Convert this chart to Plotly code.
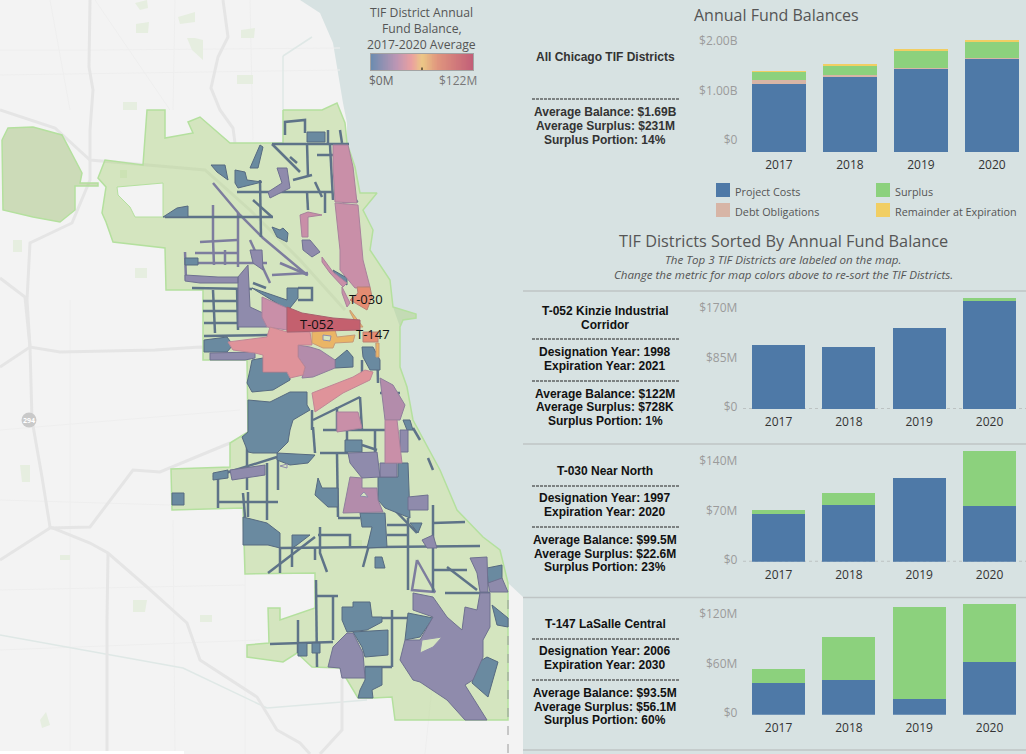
import plotly.graph_objects as go

# ---------- bar data ----------
years = ["2017", "2018", "2019", "2020"]

# all districts, $B
all_project = [1.21, 1.33, 1.47, 1.66]
all_debt = [0.07, 0.03, 0.012, 0.008]
all_surplus = [0.14, 0.17, 0.31, 0.295]
all_remainder = [0.012, 0.012, 0.018, 0.018]

# single districts, $M
kinzie_project = [98, 95, 124, 167]
kinzie_surplus = [0, 0, 0, 3]
near_north_project = [60, 72, 106, 70]
near_north_surplus = [6, 15, 0, 70]
lasalle_project = [35, 38, 17, 58]
lasalle_surplus = [15, 47, 101, 63]

legend_labels = ["Project Costs", "Debt Obligations", "Surplus", "Remainder at Expiration"]
scale_values = list(range(0, 123))

# ---------- map outlines ----------
land = [(0, 0), (300, 0), (320, 13), (333, 43), (343, 103), (347, 123), (347, 143), (355, 167), (360, 193),
        (377, 193), (363, 210), (373, 230), (370, 250), (390, 280), (393, 307), (400, 327), (400, 367),
        (407, 387), (413, 420), (440, 470), (457, 510), (483, 537), (500, 550), (508, 583), (523, 597),
        (523, 754), (0, 754)]

city = [(283, 110), (322, 110), (337, 103), (345, 123), (347, 143), (355, 167), (360, 193), (377, 193),
        (363, 210), (373, 230), (370, 250), (390, 280), (393, 307), (402, 310), (416, 314), (416, 318), (403, 320),
        (400, 327), (400, 367),
        (407, 387), (413, 420), (440, 470), (457, 510), (483, 537), (500, 550), (508, 583), (508, 720),
        (395, 720), (392, 697), (373, 698), (358, 698), (340, 668), (312, 667), (297, 653), (283, 662),
        (247, 657), (247, 645), (269, 643), (268, 608), (280, 608), (280, 620), (315, 608), (315, 573),
        (245, 574), (243, 508), (172, 510), (171, 469), (230, 467), (230, 443), (248, 432), (247, 387),
        (247, 360), (203, 360), (203, 290), (166, 290), (165, 248), (113, 242), (106, 222), (102, 213),
        (106, 187), (98, 178), (105, 160), (143, 165), (147, 110), (165, 110), (165, 138), (193, 133),
        (188, 122), (200, 117), (230, 143), (283, 143)]
city_hole = [(117, 187), (163, 183), (163, 217), (135, 217), (130, 207), (118, 195)]

ohare = [(2, 140), (8, 128), (33, 127), (62, 135), (82, 173), (80, 183), (98, 183), (98, 186), (75, 186),
         (75, 210), (60, 222), (33, 217), (3, 210)]

parks = [[(187, 38), (195, 38), (203, 40), (203, 60), (192, 50)], [(178, 17), (195, 12), (195, 22), (180, 24)],
         [(136, 24), (149, 22), (148, 33), (136, 33)], [(241, 30), (255, 28), (254, 38), (241, 38)],
         [(237, 75), (253, 75), (253, 84), (237, 84)], [(123, 102), (137, 102), (137, 110), (123, 110)],
         [(135, 3), (147, 0), (148, 8), (140, 10)], [(20, 465), (30, 465), (30, 482), (22, 482)],
         [(60, 555), (70, 555), (70, 560), (60, 560)], [(133, 600), (147, 600), (145, 612), (133, 612)],
         [(200, 615), (212, 615), (212, 622), (200, 622)], [(40, 720), (46, 712), (50, 725), (42, 728)],
         [(13, 240), (22, 240), (22, 252), (13, 252)], [(135, 268), (147, 268), (147, 278), (135, 278)],
         [(120, 170), (127, 170), (127, 178), (120, 178)], [(350, 540), (362, 540), (362, 548), (350, 548)]]

roads = [[(90, 0), (89, 67), (93, 90), (90, 130), (90, 180), (72, 223), (30, 243), (27, 300), (30, 347), (32, 420),
          (42, 477), (50, 527), (90, 543), (108, 553), (147, 587), (187, 623), (200, 660), (257, 697), (277, 730),
          (300, 743), (310, 754)],
         [(223, 0), (228, 37), (218, 57), (211, 88), (220, 110), (233, 128), (235, 143)],
         [(0, 110), (55, 128), (90, 160), (165, 167), (205, 170), (250, 210), (300, 260), (345, 310)],
         [(0, 278), (25, 297), (30, 347)], [(0, 367), (30, 347), (60, 352), (155, 350), (200, 347), (270, 350)],
         [(0, 560), (50, 528), (90, 527), (133, 470), (160, 472), (230, 443)],
         [(108, 553), (107, 620), (107, 754)], [(342, 670), (342, 730), (320, 754)]]
thin_roads = [[(0, 50), (100, 50), (340, 48)], [(0, 75), (340, 70)], [(50, 0), (70, 110)], [(175, 0), (173, 110)],
              [(95, 0), (170, 110)], [(250, 0), (253, 140)], [(0, 430), (240, 410)], [(173, 520), (175, 754)],
              [(0, 590), (245, 585)], [(245, 520), (245, 754)], [(440, 610), (425, 754)], [(0, 650), (260, 640)],
              [(70, 300), (70, 754)], [(0, 500), (170, 505)]]
canal = [[(0, 635), (183, 668), (267, 708), (367, 700)], [(283, 56), (283, 110)], [(283, 56), (312, 37)]]

# districts grouped by colour on the average balance scale
slate_areas = [[(307, 132), (325, 132), (325, 142), (307, 142)], [(260, 145), (250, 168), (258, 168), (263, 147)],
               [(211, 165), (225, 165), (228, 180), (217, 172)],
               [(235, 170), (245, 172), (247, 180), (262, 182), (238, 188), (235, 183)],
               [(163, 217), (177, 208), (188, 206), (188, 217)],
               [(333, 270), (347, 278), (347, 285), (338, 280)],
               [(272, 227), (280, 230), (283, 228), (288, 233), (287, 242), (277, 237)],
               [(252, 288), (287, 300), (287, 288), (298, 288), (298, 298), (290, 308), (283, 307), (267, 297)],
               [(204, 340), (227, 337), (233, 345), (227, 352), (204, 352)],
               [(252, 360), (263, 358), (263, 372), (290, 372), (290, 380), (273, 390), (252, 392), (247, 383),
                (250, 370)],
               [(335, 360), (347, 350), (353, 357), (353, 367), (335, 368)],
               [(362, 347), (373, 347), (380, 360), (380, 370), (370, 370), (363, 357)],
               [(248, 400), (270, 402), (290, 392), (307, 392), (307, 405), (310, 410), (293, 420), (290, 430),
                (288, 442), (277, 453), (253, 453), (248, 452), (242, 437), (248, 432)],
               [(277, 453), (315, 455), (308, 463), (290, 465), (277, 460)],
               [(378, 477), (398, 477), (398, 463), (408, 463), (409, 490), (410, 518), (385, 508), (378, 500)],
               [(318, 478), (322, 488), (338, 488), (338, 507), (328, 507), (315, 495)],
               [(172, 493), (184, 493), (184, 505), (172, 505)],
               [(243, 517), (267, 523), (280, 533), (280, 548), (268, 545), (243, 545)],
               [(292, 535), (310, 535), (297, 545), (292, 548)],
               [(360, 513), (385, 513), (387, 547), (367, 548), (372, 527), (362, 527)],
               [(375, 557), (382, 557), (385, 568), (375, 568)],
               [(408, 613), (433, 618), (420, 637), (405, 640)],
               [(477, 663), (487, 657), (498, 662), (488, 697), (472, 683)],
               [(342, 607), (353, 607), (353, 602), (370, 602), (372, 617), (382, 617), (382, 622), (367, 630),
                (347, 632), (342, 620)],
               [(353, 632), (388, 630), (388, 655), (365, 657), (362, 647)],
               [(365, 667), (382, 667), (382, 685), (372, 690), (373, 698), (358, 698), (360, 690), (365, 680)],
               [(298, 643), (307, 643), (307, 656), (298, 656)], [(312, 643), (320, 643), (320, 653), (312, 653)],
               [(487, 568), (502, 565), (502, 580), (488, 583)], [(492, 605), (508, 618), (508, 627), (497, 625)],
               [(410, 523), (422, 523), (418, 533)], [(345, 440), (362, 440), (362, 452), (345, 452)],
               [(185, 258), (198, 258), (198, 265), (185, 265)], [(403, 420), (410, 420), (413, 430), (407, 430)],
               [(213, 473), (228, 470), (228, 478), (213, 480)]]

purple_areas = [[(277, 168), (287, 168), (290, 188), (270, 198), (268, 192), (282, 183)],
                [(185, 275), (218, 277), (238, 277), (238, 283), (200, 283), (185, 281)],
                [(238, 277), (248, 265), (250, 307), (263, 313), (267, 327), (238, 327)],
                [(250, 250), (262, 250), (263, 270), (253, 263)],
                [(343, 193), (353, 193), (358, 202), (343, 203)],
                [(302, 240), (310, 240), (320, 252), (312, 257), (303, 250)],
                [(210, 353), (255, 352), (255, 358), (245, 360), (210, 360)],
                [(348, 453), (377, 452), (380, 477), (362, 478), (350, 463)],
                [(380, 463), (397, 463), (397, 477), (380, 477)],
                [(400, 430), (408, 430), (408, 452), (400, 452)],
                [(413, 593), (433, 597), (447, 617), (462, 630), (465, 607), (477, 610), (480, 593), (490, 593),
                 (490, 627), (483, 640), (483, 657), (473, 680), (465, 685), (487, 720), (465, 720), (447, 700),
                 (420, 682), (413, 680), (400, 660), (405, 640), (420, 640), (433, 617), (413, 610)],
                [(347, 633), (353, 633), (363, 653), (365, 678), (342, 678), (340, 668), (328, 667), (333, 647)],
                [(488, 583), (502, 578), (508, 592), (490, 592)],
                [(470, 558), (487, 557), (488, 592), (480, 592), (477, 573)],
                [(408, 497), (428, 495), (428, 510), (408, 510)],
                [(422, 540), (433, 535), (437, 548), (427, 548)],
                [(230, 470), (265, 465), (265, 475), (232, 480)]]

mauve_areas = [[(298, 345), (310, 347), (320, 350), (335, 360), (335, 368), (313, 377), (302, 378), (305, 367),
                (298, 357)],
               [(350, 477), (362, 478), (362, 488), (377, 488), (378, 500), (383, 512), (343, 513), (348, 488)],
               [(380, 378), (393, 385), (405, 405), (400, 420), (385, 420)]]

pink_areas = [[(333, 145), (348, 145), (353, 167), (357, 203), (335, 202), (333, 167)],
              [(335, 203), (358, 205), (363, 260), (370, 287), (355, 288), (340, 270), (340, 250)],
              [(262, 297), (287, 308), (287, 330), (267, 327), (262, 317)],
              [(300, 215), (308, 212), (322, 215), (308, 217), (308, 237), (302, 237)],
              [(322, 257), (333, 272), (347, 283), (343, 287), (330, 273), (322, 262)],
              [(342, 287), (350, 303), (347, 307), (342, 293)],
              [(337, 412), (358, 412), (362, 428), (337, 432)],
              [(385, 420), (397, 420), (402, 463), (385, 463)]]

salmon_areas = [[(228, 342), (267, 337), (270, 327), (287, 332), (310, 332), (312, 345), (298, 345), (298, 357),
                 (305, 367), (303, 375), (290, 378), (287, 372), (263, 372), (263, 355), (255, 353), (233, 350)],
                [(312, 393), (353, 377), (365, 370), (373, 372), (370, 380), (343, 393), (315, 412)]]

orange_areas = [[(357, 287), (370, 287), (372, 297), (367, 310), (362, 307), (350, 300), (358, 293)],
                [(363, 332), (378, 332), (378, 342), (363, 342)]]

yellow_areas = [[(312, 332), (335, 330), (337, 337), (355, 335), (353, 342), (335, 343), (333, 348), (323, 348),
                 (312, 343)],
                [(350, 310), (363, 327), (358, 327), (350, 312)], [(376, 343), (379, 343), (379, 357), (376, 357)]]

red_areas = [[(287, 307), (302, 313), (333, 318), (360, 320), (360, 330), (333, 331), (287, 332)]]

gaps = [[(323, 335), (331, 336), (330, 341), (323, 340)], [(422, 640), (442, 637), (433, 647), (420, 653)],
        [(280, 466), (287, 464), (287, 468)], [(360, 496), (368, 497), (364, 492)]]

slate_lines = [[(285, 135), (285, 122), (305, 120), (305, 133)], [(272, 144), (349, 144)],
               [(272, 144), (300, 172)], [(307, 143), (308, 177)], [(328, 130), (328, 143)], [(340, 130), (342, 143)],
               [(317, 155), (333, 155)], [(237, 192), (333, 192)], [(260, 180), (261, 237)],
               [(165, 217), (273, 217)], [(192, 288), (252, 289)], [(203, 301), (238, 301)], [(203, 311), (238, 311)],
               [(204, 323), (238, 323)], [(213, 290), (215, 333)], [(237, 288), (238, 330)],
               [(298, 288), (312, 288), (312, 300), (298, 300)],
               [(204, 336), (268, 335)], [(253, 200), (272, 217)], [(280, 548), (480, 546)], [(280, 548), (280, 573)],
               [(268, 573), (315, 537)], [(292, 548), (292, 567)], [(315, 548), (315, 560)],
               [(320, 527), (320, 553), (327, 572)], [(375, 523), (363, 567)], [(337, 453), (338, 517)],
               [(338, 518), (360, 518)], [(318, 535), (350, 535), (350, 548)], [(320, 453), (348, 453)],
               [(313, 427), (315, 453)], [(267, 463), (267, 520)], [(213, 477), (277, 457)], [(218, 477), (218, 508)],
               [(218, 502), (278, 502)], [(243, 493), (245, 517)], [(248, 492), (248, 517)], [(247, 447), (247, 490)],
               [(278, 457), (278, 490)], [(408, 518), (408, 590)], [(387, 525), (408, 525)], [(387, 535), (408, 535)],
               [(387, 502), (417, 533)], [(433, 505), (433, 592)], [(433, 523), (465, 522)], [(433, 570), (467, 570)],
               [(447, 567), (477, 590)], [(445, 593), (490, 593)], [(316, 580), (317, 667)], [(333, 597), (333, 640)],
               [(316, 596), (338, 596)], [(270, 644), (333, 642)], [(298, 620), (298, 653)], [(382, 618), (407, 618)],
               [(392, 610), (392, 667)], [(365, 667), (392, 667)], [(313, 420), (360, 397)], [(360, 397), (362, 430)],
               [(323, 430), (397, 430)], [(330, 145), (333, 200)], [(348, 160), (350, 190)], [(315, 182), (322, 197)],
               [(307, 192), (308, 210)], [(325, 193), (325, 213)], [(293, 180), (312, 175)], [(290, 157), (297, 163)],
               [(377, 343), (378, 383)], [(380, 393), (400, 393)], [(388, 392), (388, 430)], [(337, 407), (337, 430)],
               [(312, 410), (312, 430)], [(375, 430), (375, 452)], [(347, 430), (347, 452)], [(413, 428), (420, 440)],
               [(428, 458), (433, 470)], [(362, 360), (362, 375)], [(362, 445), (377, 450)], [(253, 283), (266, 288)]]

purple_lines = [[(213, 183), (240, 215), (263, 238), (307, 275)], [(213, 205), (213, 240)], [(238, 213), (238, 267)],
                [(200, 242), (237, 240)], [(195, 253), (237, 253)], [(185, 263), (267, 263)], [(213, 240), (214, 265)],
                [(225, 250), (225, 265)], [(185, 252), (186, 280)], [(250, 240), (270, 283)], [(272, 275), (308, 273)],
                [(280, 263), (308, 275)], [(417, 560), (412, 590), (435, 592), (417, 560)]]

# ---------- layout numbers ----------
W, H = 1026, 754
WATER = "#d7e2e2"
LAND = "#f3f3f3"
BLUE = "#4e79a7"
GREEN = "#8cd17d"
DEBT = "#d7b5a6"
GOLD = "#f1ce63"
TICK_GREY = "#9b9b9b"


def flat(paths, close=False):
    xs, ys = [], []
    for path in paths:
        pts = path + path[:1] if close else path
        xs += [p[0] for p in pts] + [None]
        ys += [p[1] for p in pts] + [None]
    return xs, ys


fig = go.Figure()


def add_fill(paths, fill, edge, width=1):
    xs, ys = flat(paths, close=True)
    fig.add_trace(go.Scatter(x=xs, y=ys, mode="lines", fill="toself", fillcolor=fill,
                             line=dict(color=edge, width=width), hoverinfo="skip", xaxis="x", yaxis="y"))


def add_lines(paths, color, width, dash=None):
    xs, ys = flat(paths)
    fig.add_trace(go.Scatter(x=xs, y=ys, mode="lines", line=dict(color=color, width=width, dash=dash),
                             hoverinfo="skip", xaxis="x", yaxis="y"))


# map, the axis runs in picture pixels so the outlines stay readable
add_fill([land], LAND, LAND, 0)
add_lines(thin_roads, "#eeeeee", 1)
add_lines(canal, "#dfe8e6", 1.5)
add_fill(parks, "#e6eee0", "#e6eee0", 0)
add_lines(roads, "#e5e5e5", 3)
add_fill([city], "rgba(170,210,120,0.42)", "#b4e09e", 1.5)
add_fill([ohare], "rgba(165,195,125,0.5)", "#b4e09e", 1.5)
add_fill([city_hole], LAND, "#b4e09e", 1)
add_lines([[(508, 600), (508, 754)]], "#9a9a9a", 1, "dash")

add_lines(purple_lines, "#7d7d9e", 2.5)
add_lines(slate_lines, "#5e7388", 2.5)
add_fill(slate_areas, "#6a8aa0", "#566a80")
add_fill(purple_areas, "#8f8bac", "#6f7190")
add_fill(mauve_areas, "#b38cab", "#8f7f9c")
add_fill(pink_areas, "#c98fa8", "#a9829c")
add_fill(salmon_areas, "#df939a", "#c08796")
add_fill(orange_areas, "#e58c72", "#b98277")
add_fill(yellow_areas, "#eab566", "#c79b78")
add_fill(red_areas, "#c4606e", "#a8606e")
add_fill(gaps, "#d5e5c0", "#8f8bac")

# white strip behind the map credit
add_fill([[(0, 751), (184, 751), (184, 754), (0, 754)]], "#ffffff", "#ffffff", 0)

# panel rules
add_fill([[(523, 597), (1026, 597), (1026, 754), (523, 754)]], WATER, WATER, 0)
add_lines([[(523, 291), (1026, 291)], [(523, 444), (1026, 444)], [(523, 597.5), (1026, 597.5)],
           [(523, 750), (1026, 750)]], "#bfc5c5", 1.5)
add_lines([[(532, 99), (679, 99)], [(532, 339), (679, 339)], [(532, 381), (679, 381)], [(532, 486), (679, 486)],
           [(532, 527), (679, 527)], [(532, 639), (679, 639)], [(532, 680), (679, 680)]],
          "#222222", 1, "3px,1px")


def add_bars(series, xname, yname):
    for name, vals, color in series:
        fig.add_trace(go.Bar(x=years, y=vals, name=name, marker=dict(color=color, line=dict(width=0)), width=0.755,
                             hoverinfo="skip", xaxis=xname, yaxis=yname))


add_bars([("Project Costs", all_project, BLUE), ("Debt Obligations", all_debt, DEBT),
          ("Surplus", all_surplus, GREEN), ("Remainder at Expiration", all_remainder, GOLD)], "x2", "y2")
add_bars([("Project Costs", kinzie_project, BLUE), ("Surplus", kinzie_surplus, GREEN)], "x3", "y3")
add_bars([("Project Costs", near_north_project, BLUE), ("Surplus", near_north_surplus, GREEN)], "x4", "y4")
add_bars([("Project Costs", lasalle_project, BLUE), ("Surplus", lasalle_surplus, GREEN)], "x5", "y5")

# colour scale of the map
fig.add_trace(go.Heatmap(z=[scale_values], showscale=False, hoverinfo="skip", xaxis="x6", yaxis="y6",
                         colorscale=[[0, "#6c8cb0"], [0.25, "#bd96b4"], [0.4, "#eaa0a0"], [0.5, "#ecc886"],
                                     [0.65, "#e0967e"], [1, "#c25f78"]]))

# legend keys and the interstate shield
legend_x = [723, 723, 883, 883]
legend_y = [190, 210, 190, 210]
fig.add_trace(go.Scatter(x=legend_x, y=legend_y, mode="markers", hoverinfo="skip",
                         marker=dict(symbol="square", size=14, color=[BLUE, DEBT, GREEN, GOLD]), xaxis="x", yaxis="y"))
fig.add_trace(go.Scatter(x=[29], y=[420], mode="markers", hoverinfo="skip",
                         marker=dict(symbol="circle", size=15, color="#c9c9c9"), xaxis="x", yaxis="y"))


def value_axis(top_px, base_px, top_value, tick_pos, tick_text):
    return dict(domain=[1 - base_px / H, 1 - top_px / H], range=[0, top_value], showgrid=False, zeroline=False,
                tickmode="array", tickvals=tick_pos, ticktext=tick_text, ticks="", showline=False, fixedrange=True,
                automargin=False, ticklabelstandoff=5, tickfont=dict(family="Open Sans", size=12, color=TICK_GREY))


def year_axis(hi, anchor, left=743.4):
    return dict(domain=[left / W, 1], range=[-0.5, hi], type="category", anchor=anchor, showgrid=False, zeroline=False,
                ticks="", showline=False, fixedrange=True, automargin=False, ticklabelstandoff=4,
                tickfont=dict(family="Open Sans", size=12, color="#333333"))


fig.update_layout(
    width=W, height=H, margin=dict(l=0, r=0, t=0, b=0), paper_bgcolor=WATER, plot_bgcolor="rgba(0,0,0,0)",
    showlegend=False, barmode="stack", bargap=0.245,
    xaxis=dict(domain=[0, 1], range=[0, W], visible=False, fixedrange=True, automargin=False),
    yaxis=dict(domain=[0, 1], range=[H, 0], visible=False, fixedrange=True, automargin=False),
    xaxis2=year_axis(3.479, "y2"),
    yaxis2=value_axis(38, 152, 2.018, [0.212, 1.08, 1.965], ["$0", "$1.00B", "$2.00B"]) | {"anchor": "x2"},
    xaxis3=year_axis(3.518, "y3"),
    yaxis3=value_axis(295, 409, 175, [3, 79, 155.5], ["$0", "$85M", "$170M"]) | {"anchor": "x3"},
    xaxis4=year_axis(3.518, "y4"),
    yaxis4=value_axis(448, 561.7, 143.8, [2.5, 64.5, 127.8], ["$0", "$70M", "$140M"]) | {"anchor": "x4"},
    xaxis5=year_axis(3.518, "y5"),
    yaxis5=value_axis(601, 714.7, 124.6, [2.2, 55.9, 111], ["$0", "$60M", "$120M"]) | {"anchor": "x5"},
    xaxis6=dict(domain=[371 / W, 473 / W], anchor="y6", visible=True, showticklabels=False, ticks="", showgrid=False,
                zeroline=False, showline=True, mirror=True, linecolor="#a3a3a3", linewidth=1, fixedrange=True,
                automargin=False),
    yaxis6=dict(domain=[1 - 70 / H, 1 - 54 / H], anchor="x6", visible=True, showticklabels=False, ticks="", showgrid=False,
                zeroline=False, showline=True, mirror=True, linecolor="#a3a3a3", linewidth=1, fixedrange=True,
                automargin=False),
)

# dotted base lines of the district charts
for yname in ["y3", "y4", "y5"]:
    fig.add_shape(type="line", xref="paper", x0=743 / W, x1=1, yref=yname, y0=0, y1=0, layer="below",
                  line=dict(color="#bcc2c2", width=2, dash="dot"))

# small tick on the colour scale
fig.add_shape(type="line", xref="x", yref="y", x0=422, x1=422, y0=67.5, y1=70, line=dict(color="#000000", width=1))


def label(x, y, text, size=12, color="#333333", family="Liberation Sans", bold=False, italic=False, xanchor="center"):
    if bold:
        text = "<b>" + text + "</b>"
    if italic:
        text = "<i>" + text + "</i>"
    fig.add_annotation(x=x, y=y, xref="x", yref="y", text=text, showarrow=False, xanchor=xanchor, yanchor="middle",
                       font=dict(family=family, size=size, color=color))


OPEN = "Open Sans"
label(421.5, 12, "TIF District Annual", 12.2, "#555555", OPEN)
label(421.5, 28, "Fund Balance,", 12.2, "#555555", OPEN)
label(421.5, 44.5, "2017-2020 Average", 12.2, "#555555", OPEN)
label(381, 80, "$0M", 12, "#666666", OPEN)
label(458, 80, "$122M", 12, "#777777", OPEN)

label(733, 191, legend_labels[0], 10.8, "#555555", OPEN, xanchor="left")
label(733, 211, legend_labels[1], 10.8, "#555555", OPEN, xanchor="left")
label(893, 191, legend_labels[2], 10.8, "#555555", OPEN, xanchor="left")
label(893, 211, legend_labels[3], 10.8, "#555555", OPEN, xanchor="left")

label(366, 299, "T-030", 13, "#111111", OPEN)
label(317, 323.5, "T-052", 13, "#111111", OPEN)
label(373, 334, "T-147", 13, "#111111", OPEN)
label(29, 420, "294", 7, "#ffffff", OPEN, bold=True)

# map credit, cut off by the bottom edge in the original too
fig.add_annotation(x=2, y=750, xref="x", yref="y", text="© 2021 Mapbox © OpenStreetMap", showarrow=False,
                   xanchor="left", yanchor="top", font=dict(family=OPEN, size=10, color="#333333"))

label(776, 14.5, "Annual Fund Balances", 16, "#555555", OPEN)
label(783, 240.5, "TIF Districts Sorted By Annual Fund Balance", 16.3, "#555555", OPEN)
label(783, 259, "The Top 3 TIF Districts are labeled on the map.", 11.6, "#555555", OPEN, italic=True)
label(783, 274, "Change the metric for map colors above to re-sort the TIF Districts.", 11.6, "#555555", OPEN, italic=True)

label(605, 57, "All Chicago TIF Districts", 12, "#333333", bold=True)
label(605, 112, "Average Balance: $1.69B", 12, "#333333", bold=True)
label(605, 126, "Average Surplus: $231M", 12, "#333333", bold=True)
label(605, 140, "Surplus Portion: 14%", 12, "#333333", bold=True)

label(605, 310.7, "T-052 Kinzie Industrial", 12, "#111111", bold=True)
label(605, 324.7, "Corridor", 12, "#111111", bold=True)
label(605, 351.7, "Designation Year: 1998", 12, "#111111", bold=True)
label(605, 365.7, "Expiration Year: 2021", 12, "#111111", bold=True)
label(605, 394, "Average Balance: $122M", 12, "#111111", bold=True)
label(605, 407, "Average Surplus: $728K", 12, "#111111", bold=True)
label(605, 420.7, "Surplus Portion: 1%", 12, "#111111", bold=True)

label(605, 470.7, "T-030 Near North", 12, "#111111", bold=True)
label(605, 497.7, "Designation Year: 1997", 12, "#111111", bold=True)
label(605, 511.7, "Expiration Year: 2020", 12, "#111111", bold=True)
label(605, 539.7, "Average Balance: $99.5M", 12, "#111111", bold=True)
label(605, 553.7, "Average Surplus: $22.6M", 12, "#111111", bold=True)
label(605, 566.7, "Surplus Portion: 23%", 12, "#111111", bold=True)

label(605, 623.7, "T-147 LaSalle Central", 12, "#111111", bold=True)
label(605, 650.7, "Designation Year: 2006", 12, "#111111", bold=True)
label(605, 664.7, "Expiration Year: 2030", 12, "#111111", bold=True)
label(605, 692.7, "Average Balance: $93.5M", 12, "#111111", bold=True)
label(605, 706.7, "Average Surplus: $56.1M", 12, "#111111", bold=True)
label(605, 719.7, "Surplus Portion: 60%", 12, "#111111", bold=True)

fig.write_html("out.html", post_script="document.body.style.margin='0';document.body.style.overflow='hidden';",
               config={"displayModeBar": False})
